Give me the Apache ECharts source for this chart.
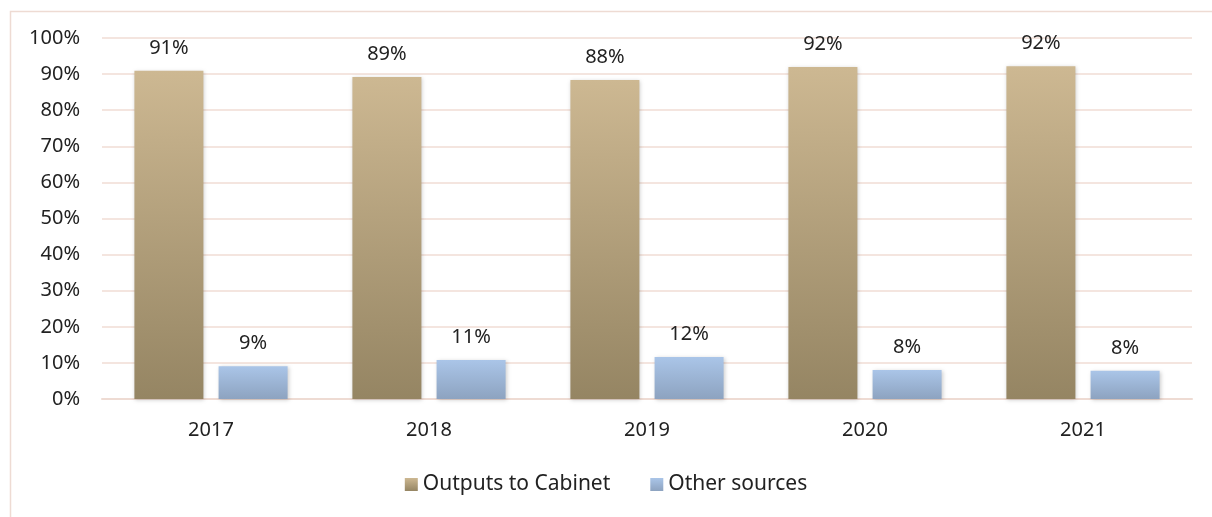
<!DOCTYPE html>
<html>
<head>
<meta charset="utf-8">
<script src="https://cdn.jsdelivr.net/npm/echarts@6/dist/echarts.min.js"></script>
<style>html,body{margin:0;padding:0;background:#fff}#c{width:1212px;height:517px}</style>
</head>
<body>
<div id="c"></div>
<script>
const categories = ['2017', '2018', '2019', '2020', '2021'];
const cabinetValues = [90.9, 89.2, 88.4, 92.0, 92.2];
const otherValues = [9.1, 10.8, 11.6, 8.0, 7.8];
const seriesNames = ['Outputs to Cabinet', 'Other sources'];
const yTicks = [0, 10, 20, 30, 40, 50, 60, 70, 80, 90, 100];

const FONT = 'Noto Sans';
const TXT = '#222222';
const chart = echarts.init(document.getElementById('c'));
const grad = (a, b) => new echarts.graphic.LinearGradient(0, 0, 0, 1, [{offset: 0, color: a}, {offset: 1, color: b}]);
const label = {
  show: true, position: 'top', distance: 13,
  formatter: p => Math.round(p.value) + '%',
  fontFamily: FONT, fontSize: 20, color: TXT
};
chart.setOption({
  animation: false,
  graphic: [{
    type: 'rect', left: 8, top: 9, z: -10,
    shape: {width: 1300, height: 600},
    style: {fill: 'none', stroke: '#EEDBD3', lineWidth: 1.5}
  }],
  grid: {left: 102, right: 20, top: 38, bottom: 118, containLabel: false},
  legend: {
    bottom: 17, left: 'center', itemWidth: 13, itemHeight: 13, itemGap: 40,
    icon: 'rect',
    textStyle: {fontFamily: FONT, fontSize: 21, color: TXT},
    data: seriesNames
  },
  xAxis: {
    type: 'category', data: categories,
    axisLine: {show: true, lineStyle: {color: '#EEDBD3', width: 2}},
    axisTick: {show: false},
    axisLabel: {fontFamily: FONT, fontSize: 20, color: TXT, margin: 21}
  },
  yAxis: {
    type: 'value', min: 0, max: 100, interval: 10,
    axisLine: {show: false}, axisTick: {show: false},
    splitLine: {lineStyle: {color: '#F0DDD5', width: 1.5}},
    axisLabel: {fontFamily: FONT, fontSize: 20, color: TXT, margin: 22,
      formatter: v => yTicks.includes(v) ? v + '%' : ''}
  },
  series: [
    {
      name: seriesNames[0], type: 'bar', data: cabinetValues,
      barWidth: 69, barGap: '22%',
      itemStyle: {color: grad('#CDB892', '#958563'), shadowColor: 'rgba(0,0,0,0.2)', shadowBlur: 4, shadowOffsetX: 1, shadowOffsetY: 1},
      label: label
    },
    {
      name: seriesNames[1], type: 'bar', data: otherValues,
      barWidth: 69,
      itemStyle: {color: grad('#AAC5E8', '#8DA3C0'), shadowColor: 'rgba(0,0,0,0.2)', shadowBlur: 4, shadowOffsetX: 1, shadowOffsetY: 1},
      label: label
    }
  ]
});
</script>
</body>
</html>
